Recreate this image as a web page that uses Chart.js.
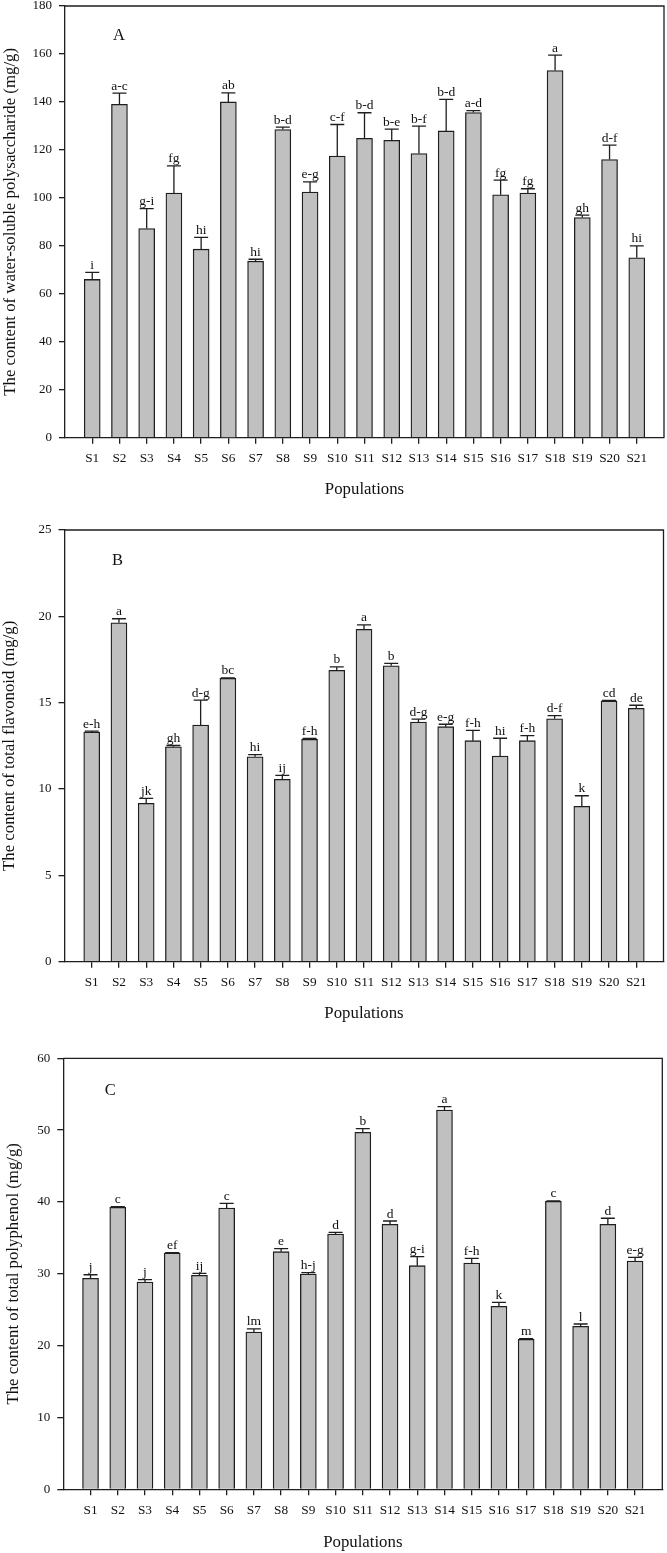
<!DOCTYPE html>
<html lang="en">
<head>
  <meta charset="UTF-8">
  <title>Contents by population</title>
  <style>
    body {
      margin: 0;
      background: #fff;
    }
    .wrap {
      position: relative;
      width: 667px;
      height: 1553px;
    }
    .panel {
      position: absolute;
      left: 0;
      width: 667px;
    }
  </style>
</head>
<body>
  <div class="wrap">
    <div class="panel" style="top:0;height:505px"><canvas id="chartA"></canvas></div>
    <div class="panel" style="top:505px;height:524px"><canvas id="chartB"></canvas></div>
    <div class="panel" style="top:1029px;height:524px"><canvas id="chartC"></canvas></div>
  </div>

  <script src="https://cdn.jsdelivr.net/npm/chart.js"></script>
  <script>
    // Data
    const populations = ['S1', 'S2', 'S3', 'S4', 'S5', 'S6', 'S7', 'S8', 'S9', 'S10', 'S11',
      'S12', 'S13', 'S14', 'S15', 'S16', 'S17', 'S18', 'S19', 'S20', 'S21'];

    const polysaccharide = [66.0, 139.0, 87.2, 102.0, 78.6, 140.0, 73.6, 128.5, 102.4, 117.4, 124.8,
      124.0, 118.5, 127.9, 135.6, 101.3, 102.0, 153.1, 91.8, 116.0, 75.0];
    const polysaccharideErr = [2.9, 4.7, 8.3, 11.3, 4.9, 3.8, 0.8, 1.0, 4.3, 13.2, 10.7,
      4.7, 11.4, 13.2, 0.8, 6.1, 1.8, 6.4, 1.0, 6.0, 5.0];
    const polysaccharideSig = ['i', 'a-c', 'g-i', 'fg', 'hi', 'ab', 'hi', 'b-d', 'e-g', 'c-f', 'b-d',
      'b-e', 'b-f', 'b-d', 'a-d', 'fg', 'fg', 'a', 'gh', 'd-f', 'hi'];

    const flavonoid = [13.3, 19.63, 9.17, 12.45, 13.7, 16.41, 11.87, 10.56, 12.88, 16.87, 19.25,
      17.14, 13.88, 13.61, 12.8, 11.91, 12.8, 14.07, 9.0, 15.1, 14.67];
    const flavonoidErr = [0.05, 0.23, 0.29, 0.07, 1.45, 0.03, 0.12, 0.23, 0.05, 0.2, 0.25,
      0.14, 0.17, 0.14, 0.6, 1.03, 0.29, 0.18, 0.61, 0.03, 0.18];
    const flavonoidSig = ['e-h', 'a', 'jk', 'gh', 'd-g', 'bc', 'hi', 'ij', 'f-h', 'b', 'a',
      'b', 'd-g', 'e-g', 'f-h', 'hi', 'f-h', 'd-f', 'k', 'cd', 'de'];

    const polyphenol = [29.37, 39.26, 28.86, 32.9, 29.79, 39.16, 21.9, 33.08, 29.97, 35.54, 49.7,
      36.89, 31.13, 52.8, 31.5, 25.47, 20.88, 40.09, 22.69, 36.89, 31.78];
    const polyphenolErr = [0.5, 0.1, 0.32, 0.05, 0.28, 0.65, 0.42, 0.42, 0.19, 0.24, 0.5,
      0.46, 1.25, 0.46, 0.66, 0.56, 0.1, 0.05, 0.32, 0.84, 0.5];
    const polyphenolSig = ['j', 'c', 'j', 'ef', 'ij', 'c', 'lm', 'e', 'h-j', 'd', 'b',
      'd', 'g-i', 'a', 'f-h', 'k', 'm', 'c', 'l', 'd', 'e-g'];

    const SERIF = '"Liberation Serif", "Times New Roman", serif';
    const INK = '#1e1e1e';

    // error bars, significance letters, panel tag and the top/right frame
    function annotations(errs, sigs, tag, tagDx, tagDy) {
      return {
        id: 'annotations',
        afterDatasetsDraw(chart) {
          const { ctx, chartArea, scales: { y } } = chart;
          const meta = chart.getDatasetMeta(0);
          const data = chart.data.datasets[0].data;
          ctx.save();
          ctx.strokeStyle = INK;
          ctx.lineWidth = 1.3;
          ctx.fillStyle = '#111';
          ctx.font = '13.5px ' + SERIF;
          ctx.textAlign = 'center';
          ctx.textBaseline = 'alphabetic';
          meta.data.forEach((bar, i) => {
            const v = data[i];
            if (v == null) return;
            const k = i - 1;
            const top = y.getPixelForValue(v + errs[k]);
            ctx.beginPath();
            ctx.moveTo(bar.x, bar.y);
            ctx.lineTo(bar.x, top);
            ctx.moveTo(bar.x - 7, top);
            ctx.lineTo(bar.x + 7, top);
            ctx.stroke();
            ctx.fillText(sigs[k], bar.x, top - 3.5);
          });
          // frame
          ctx.beginPath();
          ctx.moveTo(chartArea.left, chartArea.top);
          ctx.lineTo(chartArea.right, chartArea.top);
          ctx.lineTo(chartArea.right, chartArea.bottom);
          ctx.stroke();
          // panel tag
          ctx.font = '16.5px ' + SERIF;
          ctx.textBaseline = 'middle';
          ctx.fillText(tag, chartArea.left + tagDx, chartArea.top + tagDy);
          ctx.restore();
        }
      };
    }

    function makePanel(id, p) {
      const labels = [''].concat(populations, ['']);
      const data = [null].concat(p.values, [null]);
      const last = labels.length - 1;
      return new Chart(document.getElementById(id), {
        type: 'bar',
        data: {
          labels: labels,
          datasets: [{
            data: data,
            backgroundColor: '#c0c0c0',
            borderColor: INK,
            borderWidth: 1.3,
            barThickness: 16
          }]
        },
        options: {
          responsive: true,
          maintainAspectRatio: false,
          animation: false,
          layout: { padding: { left: 0, top: p.area.top, right: 667 - p.area.right, bottom: 0 } },
          plugins: {
            legend: { display: false },
            tooltip: { enabled: false }
          },
          scales: {
            x: {
              offset: false,
              grid: {
                offset: false,
                drawOnChartArea: false,
                drawTicks: true,
                tickLength: 6,
                lineWidth: 1.3,
                color: (c) => (c.index === 0 || c.index === last) ? 'rgba(0,0,0,0)' : INK
              },
              border: { display: true, color: INK, width: 1.3 },
              ticks: {
                autoSkip: false,
                maxRotation: 0,
                padding: 7,
                color: '#111',
                font: { family: SERIF, size: 13.3 }
              },
              title: {
                display: true,
                text: 'Populations',
                color: '#111',
                font: { family: SERIF, size: 16.8 },
                padding: { top: 0, bottom: p.xTitlePad }
              },
              afterFit: (s) => {
                s.height = p.height - p.area.bottom;
                s.paddingLeft = 0;
                s.paddingRight = 0;
              }
            },
            y: {
              min: 0,
              max: p.yMax,
              ticks: {
                stepSize: p.yStep,
                padding: 7,
                color: '#111',
                font: { family: SERIF, size: 13 }
              },
              grid: {
                drawOnChartArea: false,
                drawTicks: true,
                tickLength: 6,
                lineWidth: 1.3,
                color: INK
              },
              border: { display: true, color: INK, width: 1.3 },
              title: {
                display: true,
                text: p.yTitle,
                color: '#111',
                font: { family: SERIF, size: 16.8 },
                padding: { top: p.yTitlePad, bottom: 0 }
              },
              afterFit: (s) => {
                s.width = p.area.left;
                s.paddingTop = 0;
                s.paddingBottom = 0;
              }
            }
          }
        },
        plugins: [annotations(p.errs, p.sigs, p.tag, p.tagDx, p.tagDy)]
      });
    }

    makePanel('chartA', {
      values: polysaccharide, errs: polysaccharideErr, sigs: polysaccharideSig,
      yMax: 180, yStep: 20,
      yTitle: 'The content of water-soluble polysaccharide (mg/g)',
      tag: 'A', tagDx: 54, tagDy: 30,
      height: 505, area: { left: 65, right: 664, top: 6, bottom: 437.7 },
      xTitlePad: 5, yTitlePad: 0.5
    });

    makePanel('chartB', {
      values: flavonoid, errs: flavonoidErr, sigs: flavonoidSig,
      yMax: 25, yStep: 5,
      yTitle: 'The content of total flavonoid (mg/g)',
      tag: 'B', tagDx: 53, tagDy: 31,
      height: 524, area: { left: 64.5, right: 663.5, top: 25, bottom: 456.7 },
      xTitlePad: 5, yTitlePad: 0
    });

    makePanel('chartC', {
      values: polyphenol, errs: polyphenolErr, sigs: polyphenolSig,
      yMax: 60, yStep: 10,
      yTitle: 'The content of total polyphenol (mg/g)',
      tag: 'C', tagDx: 47, tagDy: 32,
      height: 524, area: { left: 63.3, right: 662.3, top: 29.3, bottom: 460.3 },
      xTitlePad: 0, yTitlePad: 3.4
    });
  </script>
</body>
</html>
